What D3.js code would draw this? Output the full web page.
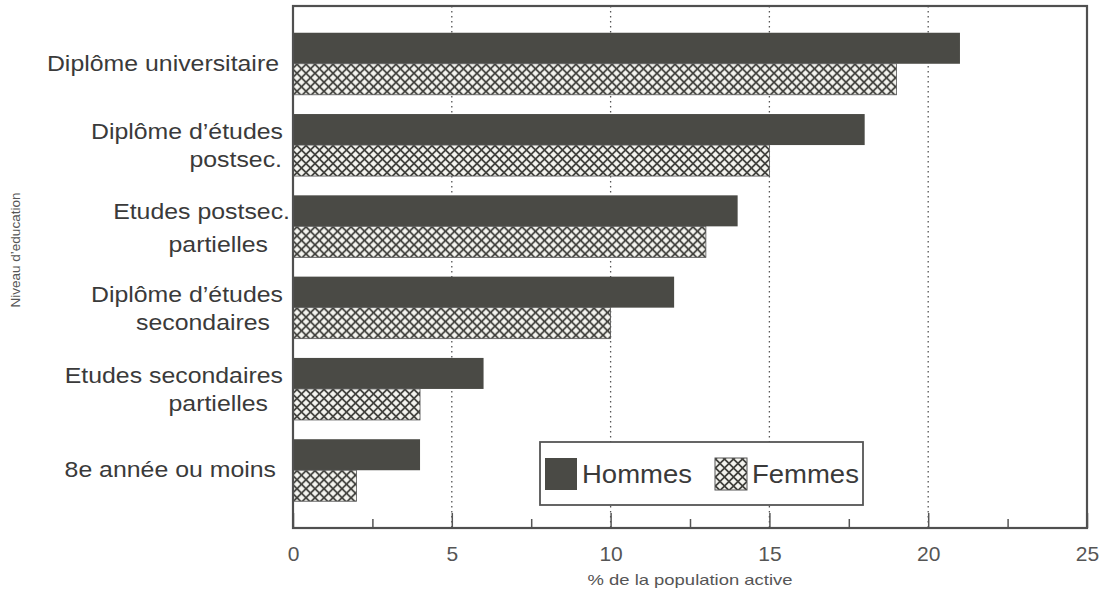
<!DOCTYPE html>
<html>
<head>
<meta charset="utf-8">
<script src="https://cdn.jsdelivr.net/npm/d3@7"></script>
<style>
  html, body { margin: 0; padding: 0; background: #ffffff; }
  svg { display: block; }
  text { font-family: "Liberation Sans", Arial, Helvetica, sans-serif; }
</style>
</head>
<body>
<svg id="chart" width="1105" height="596"></svg>
<script>
// ---- data ----
const categories = ["Diplôme universitaire", "Diplôme d’études postsec.", "Etudes postsec. partielles",
                    "Diplôme d’études secondaires", "Etudes secondaires partielles", "8e année ou moins"];
const categoryLines = [["Diplôme universitaire"], ["Diplôme d’études", "postsec."], ["Etudes postsec.", "partielles"],
                       ["Diplôme d’études", "secondaires"], ["Etudes secondaires", "partielles"], ["8e année ou moins"]];
const seriesNames = ["Hommes", "Femmes"];
const hommes = [21.0, 18.0, 14.0, 12.0, 6.0, 4.0];
const femmes = [19.0, 15.0, 13.0, 10.0, 4.0, 2.0];
const xTicks = [0, 5, 10, 15, 20, 25];
const xMinorTicks = [2.5, 7.5, 12.5, 17.5, 22.5];
const xTitle = "% de la population active";
const yTitle = "Niveau d’education";

// ---- layout / style ----
const svg = d3.select("#chart");
const pL = 293, pR = 1087, pT = 6, pB = 528;
const dark = "#4a4a45";
const ink = "#3a3a3a";
// right edge of each label line (typeset irregularly in the original)
const labelRight = [[279], [283, 282], [290, 268], [283, 270], [283, 268], [276]];
const labelOffsets = [[7], [-6, 22], [-7, 26], [-6, 22], [-6, 22], [7]];

const x = d3.scaleLinear().domain([0, 25]).range([pL, pR]);
const y = d3.scaleBand().domain(categories).range([pT, pB]).paddingInner(0.237).paddingOuter(0.329);
const ySub = d3.scaleBand().domain(seriesNames).range([0, y.bandwidth()]);

// hatch pattern
const defs = svg.append("defs");
const pat = defs.append("pattern").attr("id", "hatch").attr("patternUnits", "userSpaceOnUse")
  .attr("width", 9).attr("height", 9);
pat.append("rect").attr("width", 9).attr("height", 9).attr("fill", "#3e3e3a");
const dia = (cx, cy, r) => `M${cx},${cy - r}L${cx + r},${cy}L${cx},${cy + r}L${cx - r},${cy}Z`;
[[0,0],[9,0],[0,9],[9,9],[4.5,4.5]].forEach(([cx, cy]) => {
  pat.append("path").attr("d", dia(cx, cy, 3.3)).attr("fill", "#f4f4ef");
});

// gridlines (dotted)
svg.append("g").selectAll("line").data(xTicks.filter(t => t > 0 && t < 25)).join("line")
  .attr("x1", d => x(d)).attr("x2", d => x(d)).attr("y1", pT).attr("y2", pB)
  .attr("stroke", "#555").attr("stroke-width", 1.3).attr("stroke-dasharray", "1.5,3.5");

// bars
const rows = categories.map((c, i) => ({ cat: c, vals: [{ s: "Hommes", v: hommes[i] }, { s: "Femmes", v: femmes[i] }] }));
const grp = svg.append("g").selectAll("g").data(rows).join("g")
  .attr("transform", d => `translate(0,${y(d.cat)})`);
grp.selectAll("rect").data(d => d.vals).join("rect")
  .attr("x", x(0)).attr("y", d => ySub(d.s))
  .attr("width", d => x(d.v) - x(0)).attr("height", ySub.bandwidth())
  .attr("fill", d => d.s === "Hommes" ? dark : "url(#hatch)")
  .attr("stroke", d => d.s === "Hommes" ? "none" : "#555").attr("stroke-width", 0.8);

// axis (inward ticks)
const ax = svg.append("g").attr("transform", `translate(0,${pB})`)
  .call(d3.axisBottom(x).tickValues(xTicks).tickSizeInner(-15).tickSizeOuter(0).tickPadding(18));
ax.select(".domain").remove();
ax.selectAll(".tick line").attr("stroke", "#555").attr("stroke-width", 1.5);
ax.selectAll(".tick text").attr("font-size", 21).attr("fill", "#555")
  .attr("font-family", "'Liberation Sans', Arial, sans-serif");
const axm = svg.append("g").attr("transform", `translate(0,${pB})`)
  .call(d3.axisBottom(x).tickValues(xMinorTicks).tickSizeInner(-9).tickSizeOuter(0).tickFormat(""));
axm.select(".domain").remove();
axm.selectAll(".tick line").attr("stroke", "#555").attr("stroke-width", 1.5);

// frame
svg.append("rect").attr("x", pL).attr("y", pT).attr("width", pR - pL).attr("height", pB - pT)
  .attr("fill", "none").attr("stroke", "#505050").attr("stroke-width", 2.2);

// category labels
const cy = d => y(d) + y.bandwidth() / 2;
categories.forEach((c, i) => {
  categoryLines[i].forEach((ln, j) => {
    svg.append("text")
      .attr("transform", `translate(${labelRight[i][j]},${cy(c) + labelOffsets[i][j]}) scale(1.13,1)`)
      .attr("text-anchor", "end").attr("font-size", 22).attr("fill", ink).text(ln);
  });
});

// axis titles
svg.append("text").attr("x", (pL + pR) / 2).attr("y", 585).attr("text-anchor", "middle")
  .attr("font-size", 14.5).attr("fill", "#555").attr("textLength", 205).attr("lengthAdjust", "spacingAndGlyphs")
  .text(xTitle);
svg.append("text").attr("transform", `translate(20,250) rotate(-90)`).attr("text-anchor", "middle")
  .attr("font-size", 13.5).attr("fill", "#555").text(yTitle);

// legend
const lg = svg.append("g");
lg.append("rect").attr("x", 540).attr("y", 442).attr("width", 323).attr("height", 63)
  .attr("fill", "#fff").attr("stroke", "#555").attr("stroke-width", 1.8);
const legendItems = [{ s: "Hommes", sx: 545, tx: 582 }, { s: "Femmes", sx: 715, tx: 752 }];
legendItems.forEach(it => {
  lg.append("rect").attr("x", it.sx).attr("y", 458).attr("width", 32).attr("height", 32)
    .attr("fill", it.s === "Hommes" ? dark : "url(#hatch)")
    .attr("stroke", it.s === "Hommes" ? "none" : "#555").attr("stroke-width", 1);
  lg.append("text").attr("transform", `translate(${it.tx},483) scale(1.1,1)`)
    .attr("font-size", 25).attr("fill", ink).text(it.s);
});
</script>
</body>
</html>
